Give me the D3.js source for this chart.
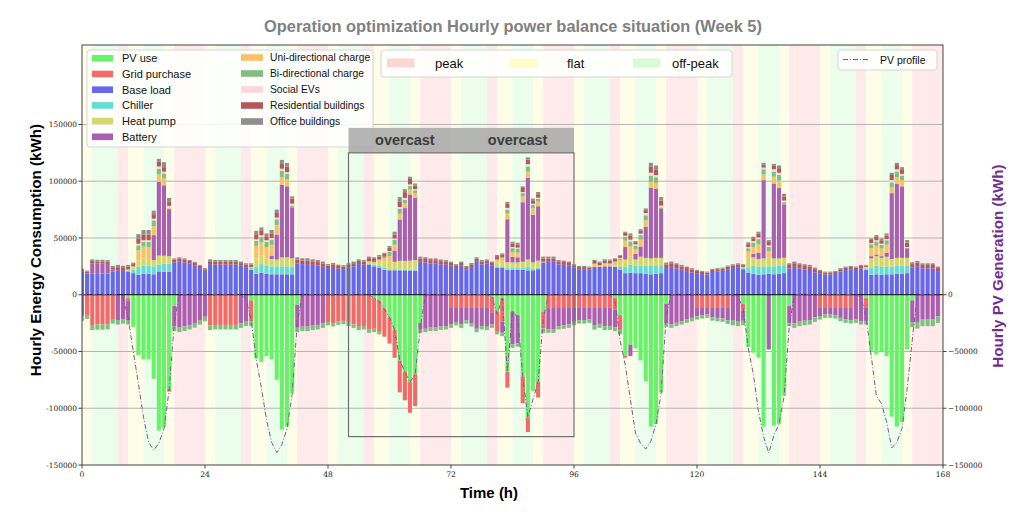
<!DOCTYPE html>
<html><head><meta charset="utf-8">
<script src="https://cdn.jsdelivr.net/npm/d3@7"></script>
<style>body{margin:0;background:#fff}svg{display:block}</style>
</head><body>
<svg id="chart" width="1015" height="522"></svg>
<script>
// ---------------- DATA (kWh per hour, 168 hours of week 5) ----------------
const tariffDay = ["flat","flat","off-peak","off-peak","off-peak","off-peak","off-peak","peak","peak","flat","flat","flat",
                   "off-peak","off-peak","off-peak","off-peak","flat","flat","peak","peak","peak","peak","peak","peak"];
const xTicks = [0,24,48,72,96,120,144,168];
const yTicksLeft = [-150000,-100000,-50000,0,50000,100000,150000];
const yTicksRight = [-150000,-100000,-50000,0];
const overcastLabels = [{h:63,text:"overcast"},{h:85,text:"overcast"}];

const baseLoad = [
20500,18800,18500,18400,18600,18800,20300,21500,21000,20000,19000,17500,18500,18500,18000,20500,20400,20400,28500,29500,28500,27500,26000,23500,
21000,27000,26500,26500,26500,26600,26600,25500,24200,22000,18500,19500,18500,18000,18000,18000,18000,18000,27500,27000,27000,26300,25800,24600,
23500,24500,23000,22500,24000,25000,27000,26500,26500,25000,24000,22000,21500,21500,21500,21500,21300,21300,29000,28500,27600,27600,26800,26400,
25500,23500,25500,22000,24400,29000,26800,27400,25500,24000,23500,22000,22000,22000,22000,21500,21500,22500,28500,29000,29000,26800,26300,25500,
24000,22500,22500,22000,24500,24500,25000,25000,24500,22000,19000,19500,19000,19000,18500,18000,18500,19000,23500,24500,23000,22000,20800,19500,
19000,18200,17700,20000,20500,21000,22500,23500,24300,22500,19500,18500,17500,18000,18500,18000,18500,19000,23000,24500,23000,22300,21800,19700,
19000,17700,17700,18300,20500,21800,22400,21800,23200,22000,17500,18000,17500,18000,18000,18500,18500,19000,24000,25200,23200,23200,23200,20800];

const chiller = [
0,0,0,0,0,0,0,0,0,1500,3000,7000,7300,7000,7000,5800,7000,7000,0,0,0,0,0,0,
0,0,0,0,0,0,0,0,0,1500,6000,7500,7000,7000,7000,7000,7000,7000,0,0,0,0,0,0,
0,0,0,0,0,0,0,0,1000,1500,1500,1500,1000,1000,800,800,800,800,0,0,0,0,0,0,
0,0,0,0,0,0,0,0,0,1000,1500,1500,1500,1500,1500,3500,1500,1500,0,0,0,0,0,0,
0,0,0,0,0,0,0,0,500,2500,5500,7000,6500,6500,7000,7500,7500,7000,0,0,0,0,0,0,
0,0,0,0,0,0,0,0,0,1000,4000,7000,7000,7000,6500,7000,7000,7000,0,0,0,0,0,0,
0,0,0,0,0,0,0,0,0,1000,6000,7500,7000,7000,6500,7000,7000,7000,0,0,0,0,0,0];

const heatPump = [
0,0,0,0,0,0,0,0,0,800,2000,5500,6000,6000,5500,8200,7000,6500,0,0,0,0,0,0,
0,0,0,0,0,0,0,0,0,1000,7500,7500,6500,6500,6000,8000,8000,7000,0,0,0,0,0,0,
0,0,0,0,0,0,0,0,2000,2500,4000,5500,6500,6500,7500,7500,7900,8500,0,0,0,0,0,0,
0,0,0,0,0,0,0,0,0,3500,4500,5000,5000,5000,5500,6000,5500,6000,500,0,0,0,0,0,
0,0,0,0,0,0,0,0,1000,2500,6500,7000,5500,8000,7000,6500,6500,6500,0,0,0,0,0,0,
0,0,0,0,0,0,0,0,0,1000,9000,7500,7000,7000,7500,7000,6500,6500,0,0,0,0,0,0,
0,0,0,0,0,0,0,0,0,1000,8500,8500,8000,8500,7000,7000,7000,6500,0,0,0,0,0,0];

const batteryCharge = [
0,0,9200,9000,8800,8300,2100,0,0,0,0,0,0,0,22000,64800,62000,41500,0,0,0,0,0,0,
0,0,0,0,0,0,0,0,0,0,0,0,0,3000,22000,64000,62500,44500,0,0,0,0,0,0,
0,0,0,0,0,0,0,0,0,0,0,0,0,10000,36500,46500,58400,55000,0,0,0,0,0,0,
0,0,0,0,0,0,0,0,0,0,0,38000,5000,4500,52500,72000,42000,48000,0,0,0,0,0,0,
0,0,0,0,0,0,0,0,0,0,11000,0,5000,9000,27500,62000,61000,43000,0,0,0,0,0,0,
0,0,0,0,0,0,0,0,0,0,0,3000,5500,69000,0,66000,62000,47000,0,0,0,0,0,0,
0,0,0,0,0,0,0,0,0,0,2000,1500,1500,3500,58000,65000,63000,8500,0,0,0,0,0,0];

const uniCharge = [
0,0,0,0,0,0,0,0,0,0,1000,9000,10500,10500,8000,6700,6000,1500,0,0,0,0,0,0,
0,0,0,0,0,0,0,0,0,0,11000,11500,10000,9500,8500,6500,6000,0,0,0,0,0,0,0,
0,0,0,0,0,0,0,0,0,0,1500,3000,5000,5000,5000,4500,4400,4000,0,0,0,0,0,0,
0,0,0,0,0,0,0,0,0,2000,2500,5000,4000,4000,5000,5500,5500,4000,0,0,0,0,0,0,
0,0,0,0,2500,1500,2500,2000,2500,3500,5500,9000,4000,6000,5500,5500,5000,0,0,0,0,0,0,0,
0,0,0,0,0,0,0,0,0,0,5500,6000,7500,5000,6000,6000,6500,0,0,0,0,0,0,0,
0,0,0,0,0,0,0,0,0,500,7000,7500,6500,7000,5000,6000,5500,0,0,0,0,0,0,0];

const biCharge = [
0,0,0,0,0,0,0,0,0,0,0,4500,4500,4700,5000,5000,4500,0,0,0,0,0,0,0,
0,0,0,0,0,0,0,0,0,0,4500,4800,4500,4500,5000,5500,5000,2000,0,0,0,0,0,0,
0,0,0,0,0,0,0,0,0,0,0,1500,4000,4500,4500,3000,2900,2400,0,0,0,0,0,0,
0,0,0,0,0,0,0,0,0,1000,1000,3500,3500,3500,3000,4500,3000,2500,0,0,0,0,0,0,
0,0,0,0,500,0,500,800,1000,1500,3500,4500,3000,4000,4500,5500,5000,1500,0,0,0,0,0,0,
0,0,0,0,0,0,0,0,0,0,3000,4000,4500,4500,3500,4500,5000,2000,0,0,0,0,0,0,
0,0,0,0,0,0,0,0,0,0,3500,4000,3500,4000,4500,5000,4000,0,0,0,0,0,0,0];

const socialEV = [
0,0,0,0,0,0,0,0,0,0,0,1400,1200,1300,1500,2000,1500,1400,0,0,0,0,0,0,
0,0,0,0,0,0,0,0,0,0,1300,1500,1500,1500,1500,2000,1500,1700,0,0,0,0,0,0,
0,0,0,0,0,0,0,0,0,0,0,0,500,1000,1500,1500,1500,1000,0,0,0,0,0,0,
0,0,0,0,0,0,0,0,0,0,0,1500,1000,1000,1000,2000,1200,1000,0,0,0,0,0,0,
0,0,0,0,0,0,0,0,0,500,1000,1500,1300,1300,2000,2500,2000,1500,0,0,0,0,0,0,
0,0,0,0,0,0,0,0,0,0,1000,1200,1500,1500,1500,2000,2000,1500,0,0,0,0,0,0,
0,0,0,0,0,0,0,0,0,0,1000,1000,1000,1000,2000,2000,1500,1000,0,0,0,0,0,0];

const residential = [
1500,1500,2000,2000,2000,2000,1800,2800,2500,2500,2000,4500,5000,5000,4000,4400,4000,4000,2500,2500,2500,2200,2100,2000,
1500,2500,2500,2500,2500,2400,2400,2300,2200,2000,4500,4500,3500,4000,4000,4800,5000,4500,3500,3200,3200,3100,3000,2900,
2300,2300,2300,2300,2500,2800,2800,2700,2700,2500,2500,2500,3000,3500,5000,5000,4800,3000,3000,3000,2900,2900,2800,2800,
2500,2400,2500,2300,2400,2700,2600,2600,2500,2500,2500,3500,3000,2800,3500,4000,3000,3000,3000,3000,3000,2600,2500,2500,
1900,1900,1900,1800,2200,2200,2200,2200,1900,1800,2500,3500,2000,2500,2500,5500,5000,4500,3300,3200,3200,2900,2700,2600,
2000,1900,1800,1900,2000,2000,2200,2400,2400,1600,2500,2500,3500,2500,3000,3000,4000,3500,3200,3200,3200,3100,3000,2900,
2000,1800,1800,1800,2000,2000,2000,2000,2100,1200,2700,3000,3000,3200,4500,3700,4000,4000,3000,3000,3000,3000,3000,2700];

const office = [
1000,1000,1500,1400,1400,1400,1200,2000,2000,1500,1300,4000,4000,4000,3000,2300,4400,3000,1000,1000,1000,900,900,800,
900,1700,1600,1600,1600,1600,1600,1400,1300,1200,3000,2500,2500,3000,3000,3000,3000,2000,2000,1900,1900,1800,1800,1700,
1200,1200,1200,1200,1200,1400,1400,1400,1400,1500,1500,1000,1500,2500,3700,2700,2000,2000,1600,1500,1500,1500,1400,1400,
1200,1100,1200,1100,1200,1300,1200,1200,1200,1000,1000,1800,1700,1500,1500,2000,1500,2000,1600,1600,1600,1200,1200,1200,
1000,1000,1000,1000,1000,1000,1000,1000,700,700,1000,2000,1000,1500,1500,3200,3400,3100,1500,1500,1500,1400,1300,1300,
900,900,900,900,900,900,1000,1000,1000,800,1600,1400,1500,1700,1700,1800,2400,2500,1500,1500,1500,1500,1500,1300,
900,900,900,900,900,1000,1000,1000,1000,600,1400,1600,1600,1800,1900,2000,1900,2200,1600,1600,1500,1500,1500,1300];

const pvUse = [
0,0,0,0,0,0,0,0,0,-3000,-28300,-53400,-57000,-57000,-74000,-119700,-116800,-83000,-10000,0,0,0,0,0,
0,0,0,0,0,0,0,0,0,-5000,-56300,-59300,-54000,-57000,-75000,-118800,-116000,-86700,-9000,0,0,0,0,0,
0,0,0,0,0,0,0,0,0,-3000,-5000,-12000,-20000,-31000,-58000,-68000,-77000,-70000,-25000,0,0,0,0,0,
0,0,0,0,0,0,0,0,-2000,-15000,-3000,-68000,-14600,-18000,-72000,-108000,-84700,-77000,-15000,0,0,0,0,0,
0,0,0,0,0,0,0,0,-3000,-18000,-54000,-44000,-47300,-57800,-76000,-116200,-113900,-86100,-8000,0,0,0,0,0,
0,0,0,0,0,0,0,0,0,-8000,-46100,-51100,-55500,-116200,0,-115300,-113900,-89000,-10000,0,0,0,0,0,
0,0,0,0,0,0,0,0,0,-3000,-49600,-52600,-49600,-54000,-107400,-116200,-112400,-48200,-5000,0,0,0,0,0];

const gridPurchase = [
0,-17800,-26700,-26300,-26300,-26000,-21400,0,0,-2000,0,0,0,0,0,0,0,-2300,0,0,0,0,0,0,
0,-27200,-26600,-26600,-26600,-26600,-26600,0,0,-18700,0,0,0,0,0,0,0,0,0,0,0,0,0,0,
-24000,-25000,-23500,-23000,-24700,-26200,-28200,-27600,-30600,-27000,-27000,-25000,-23000,-24500,-28000,-25000,-27000,-28000,0,0,0,0,0,0,
-11700,-11700,-11700,-11700,-11700,-11700,-11700,-11700,-14000,-17000,-20500,-13800,0,0,-23500,-13000,0,-13500,-14600,-11700,-11700,-11700,-11700,-11700,
-11700,-11700,-11700,-11700,-11700,-11700,-11700,-11700,-10000,-13000,-1500,0,0,0,0,0,0,0,0,0,0,0,0,0,
-11700,-11700,-11700,-11700,-11700,-11700,-11700,0,0,-6000,0,0,0,0,0,0,0,0,0,0,0,0,0,0,
-11700,-11700,-11700,-11700,-11700,-11700,-11700,0,0,-8000,0,0,0,0,0,0,0,0,0,0,0,0,0,0];

const batteryDischarge = [
-19000,0,0,0,0,0,0,-22300,-21500,-17300,0,0,0,0,0,0,0,0,-18000,-29000,-28000,-26600,-25000,-22300,
-19400,0,0,0,0,0,0,-25200,-23700,0,0,0,0,0,0,0,0,0,-20000,-28100,-28100,-27200,-26600,-25200,
0,0,0,0,0,0,0,0,0,0,0,0,0,0,0,0,0,0,-5600,-30000,-29000,-29000,-28000,-27600,
-14500,-12300,-14500,-10700,-13300,-18300,-15900,-16500,-10200,0,-10000,0,-29100,-24800,0,0,0,0,0,-18900,-18900,-15900,-15300,-14500,
-12200,-10700,-10700,-10100,-15500,-14000,-16000,-15800,-15600,0,0,-10000,0,0,0,0,0,0,-17300,-26200,-24700,-23300,-21800,-20400,
-7200,-6300,-5700,-8100,-8700,-9200,-11000,-22900,-23700,-9000,0,0,0,0,-48200,0,0,0,-14700,-25200,-23700,-22900,-22300,-19900,
-7200,-5700,-5700,-6300,-8700,-10100,-10700,-21800,-23300,-12300,0,0,0,0,0,0,0,0,-19600,-24000,-21900,-21900,-21900,-19000];

const biDischarge = [
-4000,-3500,-4500,-4500,-4500,-4500,-4000,-4000,-4000,-4000,0,0,0,0,0,0,0,0,-4000,-4000,-4000,-4000,-4000,-4000,
-4000,-4000,-4000,-4000,-4000,-4000,-4000,-4000,-4000,-4000,0,0,0,0,0,0,0,0,-4000,-4000,-4000,-4000,-4000,-4000,
-3000,-3000,-3000,-3000,-3000,-3000,-3000,-3000,-3000,-3000,-3000,0,0,0,0,0,0,0,-3000,-3000,-3000,-3000,-3000,-3000,
-3000,-3000,-3000,-3000,-3000,-3000,-3000,-3000,-3000,-3000,-3000,0,-3000,-3000,0,0,0,0,-4000,-3000,-3000,-3000,-3000,-3000,
-3000,-3000,-3000,-3000,-3500,-3500,-3500,-3500,-3500,-4000,0,0,0,0,0,0,0,0,-3000,-3000,-3000,-3000,-3000,-3000,
-3000,-3000,-3000,-3000,-3000,-3000,-3000,-4000,-4000,-3900,0,0,0,0,0,0,0,0,-3000,-4000,-4000,-4000,-4000,-4000,
-3000,-3000,-3000,-3000,-3000,-3000,-3000,-3000,-3000,-3000,0,0,0,0,0,0,0,0,-4000,-5800,-5800,-5800,-5800,-5800];

const pvProfile = [
0,0,0,0,0,0,0,0,-3000,-20000,-50000,-78000,-108000,-130000,-137000,-131000,-118000,-84000,-25000,0,0,0,0,0,
0,0,0,0,0,0,0,0,-4000,-22000,-57000,-82000,-110000,-130000,-139000,-132000,-118000,-88000,-25000,0,0,0,0,0,
0,0,0,0,0,0,0,0,0,-3000,-6000,-13000,-20000,-31000,-58000,-68000,-77000,-70000,-30000,0,0,0,0,0,
0,0,0,0,0,0,0,0,-2000,-17500,-3000,-68000,-14600,-20000,-72000,-108000,-92000,-77000,-22000,0,0,0,0,0,
0,0,0,0,0,0,0,0,-5000,-40000,-62000,-92000,-122000,-131000,-136000,-129000,-114000,-87000,-18000,0,0,0,0,0,
0,0,0,0,0,0,0,0,-2000,-12000,-47000,-70000,-103000,-125000,-139500,-124000,-114000,-89000,-28000,0,0,0,0,0,
0,0,0,0,0,0,0,0,-2000,-20000,-54000,-89000,-96000,-112000,-135000,-130000,-118000,-83000,-40000,0,0,0,0,0];

// ---------------- STYLE ----------------
const series = [
  {key:"base",   values:baseLoad,        color:"#6767ee"},
  {key:"chill",  values:chiller,         color:"#66dbd6"},
  {key:"heat",   values:heatPump,        color:"#d6d66b"},
  {key:"batC",   values:batteryCharge,   color:"#ac5fb1"},
  {key:"uni",    values:uniCharge,       color:"#f8c166"},
  {key:"bi",     values:biCharge,        color:"#80bf80"},
  {key:"social", values:socialEV,        color:"#fdd6da"},
  {key:"res",    values:residential,     color:"#b65757"},
  {key:"office", values:office,          color:"#8e8e8e"},
  {key:"pv",     values:pvUse,           color:"#68f268"},
  {key:"grid",   values:gridPurchase,    color:"#f56969"},
  {key:"batD",   values:batteryDischarge,color:"#ac5fb1"},
  {key:"biD",    values:biDischarge,     color:"#80bf80"}
];
const tariffColor = {"peak":"#feeaea","flat":"#fefee8","off-peak":"#ebfdeb"};
const tariffSwatch = {"peak":"#fcd5d5","flat":"#fdfccb","off-peak":"#d6fcd6"};
const pvLineColor = "#7c5599";

const legend1 = [["PV use","#68f268"],["Grid purchase","#f56969"],["Base load","#6767ee"],["Chiller","#66dbd6"],["Heat pump","#d6d66b"],["Battery","#ac5fb1"]];
const legend2 = [["Uni-directional charge","#f8c166"],["Bi-directional charge","#80bf80"],["Social EVs","#fdd6da"],["Residential buildings","#b65757"],["Office buildings","#8e8e8e"]];

// ---------------- CHART ----------------
const svg = d3.select("#chart");
const W = 1015, H = 522;
const x0 = 82, x1 = 943, yT = 45, yB = 465;
const x = d3.scaleLinear().domain([0,168]).range([x0,x1]);
const y = d3.scaleLinear().domain([-150000,220000]).range([yB,yT]);
const nH = 168;
const hours = d3.range(nH);

svg.append("rect").attr("width",W).attr("height",H).attr("fill","#fff");
svg.append("defs").append("clipPath").attr("id","clip").append("rect")
  .attr("x",x0).attr("y",yT).attr("width",x1-x0).attr("height",yB-yT);

const plot = svg.append("g").attr("clip-path","url(#clip)");

// tariff background
plot.selectAll("rect.bg").data(hours).join("rect").attr("class","bg")
  .attr("x",h=>x(h)).attr("width",h=>x(h+1)-x(h)+0.3)
  .attr("y",yT).attr("height",yB-yT)
  .attr("fill",h=>tariffColor[tariffDay[h%24]]);

// grid lines
plot.selectAll("line.grid").data(yTicksLeft.filter(v=>v!==0 && v!==-150000)).join("line")
  .attr("x1",x0).attr("x2",x1).attr("y1",d=>y(d)).attr("y2",d=>y(d))
  .attr("stroke","#b4b4b4").attr("stroke-width",1);

// stacked bars
const rows = hours.map(h=>{const r={h}; series.forEach(s=>r[s.key]=s.values[h]); return r;});
const stack = d3.stack().keys(series.map(s=>s.key)).offset(d3.stackOffsetDiverging);
const stacked = stack(rows);
const bw = 0.8;
stacked.forEach((layer,i)=>{
  plot.append("g").selectAll("rect").data(layer.filter(d=>d[1]!==d[0])).join("rect")
    .attr("x",d=>x(d.data.h-bw/2)).attr("width",x(bw)-x(0))
    .attr("y",d=>y(Math.max(d[0],d[1]))).attr("height",d=>Math.abs(y(d[0])-y(d[1])))
    .attr("fill",series[i].color);
});

// zero line
plot.append("line").attr("x1",x0).attr("x2",x1).attr("y1",y(0)).attr("y2",y(0))
  .attr("stroke","#000").attr("stroke-width",1);

// PV profile line
plot.append("path").datum(hours)
  .attr("d",d3.line().x(h=>x(h)).y(h=>y(pvProfile[h])))
  .attr("fill","none").attr("stroke",pvLineColor).attr("stroke-width",1)
  .attr("stroke-dasharray","5,2,1,2");

// frame
svg.append("rect").attr("x",x0).attr("y",yT).attr("width",x1-x0).attr("height",yB-yT)
  .attr("fill","none").attr("stroke","#444").attr("stroke-width",1);

// axes ticks
const tickFont = "DejaVu Serif";
const gl = svg.append("g");
yTicksLeft.forEach(v=>{
  gl.append("line").attr("x1",x0-3.5).attr("x2",x0).attr("y1",y(v)).attr("y2",y(v)).attr("stroke","#444");
  gl.append("text").attr("x",x0-5).attr("y",y(v)+2.6).attr("text-anchor","end")
    .attr("font-family",tickFont).attr("font-size",7.4).attr("fill","#222").text(v);
});
yTicksRight.forEach(v=>{
  gl.append("line").attr("x1",x1).attr("x2",x1+3.5).attr("y1",y(v)).attr("y2",y(v)).attr("stroke","#444");
  gl.append("text").attr("x",x1+5).attr("y",y(v)+2.6).attr("text-anchor","start")
    .attr("font-family",tickFont).attr("font-size",7.4).attr("fill","#222").text(v===0?"0":"\u2212"+Math.abs(v));
});
xTicks.forEach(v=>{
  gl.append("line").attr("x1",x(v)).attr("x2",x(v)).attr("y1",yB).attr("y2",yB+3.5).attr("stroke","#444");
  gl.append("text").attr("x",x(v)).attr("y",yB+12).attr("text-anchor","middle")
    .attr("font-family",tickFont).attr("font-size",7.6).attr("fill","#222").text(v);
});

// labels
const sans = "Liberation Sans, Arial, sans-serif";
svg.append("text").attr("x",513).attr("y",32).attr("text-anchor","middle")
  .attr("font-family",sans).attr("font-weight","bold").attr("font-size",16.4).attr("fill","#808080")
  .text("Operation optimization Hourly power balance situation (Week 5)");
svg.append("text").attr("x",489).attr("y",498).attr("text-anchor","middle")
  .attr("font-family",sans).attr("font-weight","bold").attr("font-size",15).attr("fill","#000").text("Time (h)");
svg.append("text").attr("transform","translate(41,250) rotate(-90)").attr("text-anchor","middle")
  .attr("font-family",sans).attr("font-weight","bold").attr("font-size",15.2).attr("fill","#000")
  .text("Hourly Energy Consumption (kWh)");
svg.append("text").attr("transform","translate(1003,266) rotate(-90)").attr("text-anchor","middle")
  .attr("font-family",sans).attr("font-weight","bold").attr("font-size",15.2).attr("fill","#6f2f8f")
  .text("Hourly PV Generation (kWh)");

// main legend
const lg = svg.append("g");
lg.append("rect").attr("x",87).attr("y",50).attr("width",286).attr("height",97).attr("rx",3)
  .attr("fill","#fff").attr("fill-opacity",0.85).attr("stroke","#d6d6d6");
legend1.forEach((d,i)=>{
  const cy = 58.3 + i*15.7;
  lg.append("rect").attr("x",92).attr("y",cy-3.3).attr("width",21).attr("height",6.6).attr("fill",d[1]);
  lg.append("text").attr("x",122).attr("y",cy+4).attr("font-family",sans).attr("font-size",11).attr("fill","#111").text(d[0]);
});
legend2.forEach((d,i)=>{
  const cy = 57.5 + i*16;
  lg.append("rect").attr("x",241).attr("y",cy-3.3).attr("width",22).attr("height",6.6).attr("fill",d[1]);
  lg.append("text").attr("x",270).attr("y",cy+3.6).attr("font-family",sans).attr("font-size",10.3).attr("fill","#111").text(d[0]);
});

// tariff legend
const tg = svg.append("g");
tg.append("rect").attr("x",381).attr("y",50).attr("width",351).attr("height",27).attr("rx",3)
  .attr("fill","#fff").attr("fill-opacity",0.85).attr("stroke","#d6d6d6");
[["peak",387,435],["flat",510,567],["off-peak",633,672]].forEach(d=>{
  tg.append("rect").attr("x",d[1]).attr("y",58.5).attr("width",27.5).attr("height",9).attr("fill",tariffSwatch[d[0]]);
  tg.append("text").attr("x",d[2]).attr("y",67.5).attr("font-family",sans).attr("font-size",13).attr("fill","#111").text(d[0]);
});

// PV legend
const pg = svg.append("g");
pg.append("rect").attr("x",838).attr("y",50).attr("width",99).attr("height",20).attr("rx",3)
  .attr("fill","#fff").attr("fill-opacity",0.85).attr("stroke","#d6d6d6");
pg.append("line").attr("x1",843).attr("x2",868).attr("y1",59.5).attr("y2",59.5)
  .attr("stroke",pvLineColor).attr("stroke-width",1).attr("stroke-dasharray","5,2,1,2");
pg.append("text").attr("x",880).attr("y",63.5).attr("font-family",sans).attr("font-size",10.5).attr("fill","#111").text("PV profile");

// overcast box
const og = svg.append("g");
og.append("rect").attr("x",x(52)).attr("y",y(147000)).attr("width",x(96)-x(52)).attr("height",y(125000)-y(147000))
  .attr("fill","#a8a8a8").attr("fill-opacity",0.85);
og.append("rect").attr("x",x(52)).attr("y",y(125000)).attr("width",x(96)-x(52)).attr("height",y(-125000)-y(125000))
  .attr("fill","none").attr("stroke","#707070").attr("stroke-width",1.2);
overcastLabels.forEach(d=>{
  og.append("text").attr("x",x(d.h)).attr("y",y(136000)+5).attr("text-anchor","middle")
    .attr("font-family",sans).attr("font-weight","bold").attr("font-size",14.5).attr("fill","#3d3d3d").text(d.text);
});
</script>
</body></html>
